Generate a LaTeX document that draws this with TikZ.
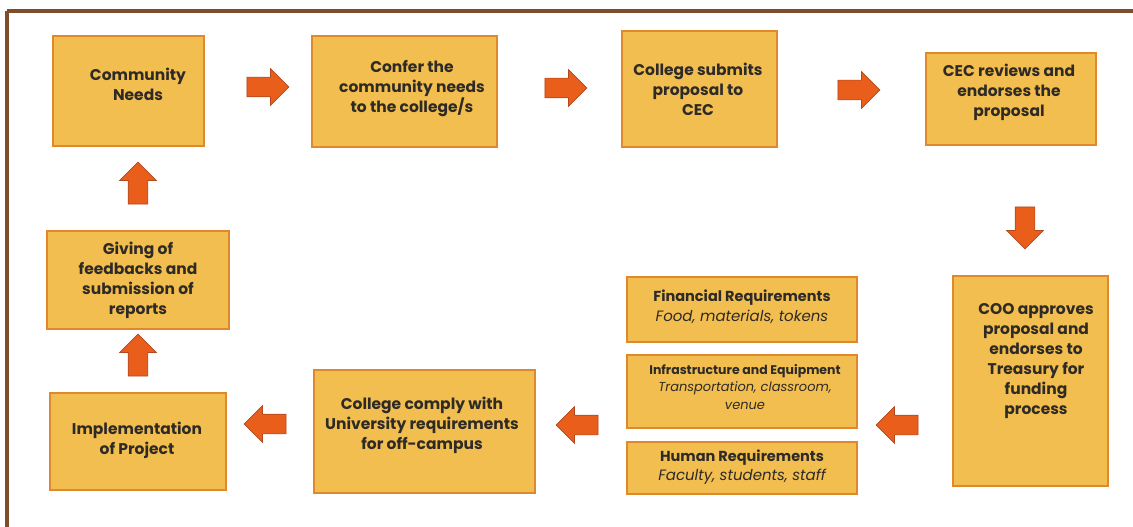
\documentclass[tikz,border=0pt]{standalone}
\usepackage{fontspec}
\setmainfont{Poppins}
\usetikzlibrary{shapes.arrows,calc}
\definecolor{boxfill}{HTML}{F2BE50}
\definecolor{boxline}{HTML}{E0882C}
\definecolor{arrowfill}{HTML}{EA5E1C}
\definecolor{arrowline}{HTML}{B04A1E}
\definecolor{frameline}{HTML}{7E4E2C}
\definecolor{txt}{HTML}{2E2A26}
\tikzset{
  stepbox/.style={draw=boxline, fill=boxfill, line width=2.6pt, inner sep=0pt},
  steptext/.style={text=txt, align=center, inner sep=0pt,
    font=\bfseries\fontsize{15.5}{20}\selectfont},
  reqtext/.style={text=txt, align=center, inner sep=0pt},
  blockarrow/.style={single arrow, fill=arrowfill, draw=arrowline, line width=0.7pt,
    inner sep=9.5pt, minimum height=42pt, minimum width=36pt,
    single arrow head extend=8.5pt}
}
\begin{document}
\begin{tikzpicture}[x=1pt,y=-1pt]
\useasboundingbox (0,0) rectangle (1133,527);
\fill[white] (0,0) rectangle (1133,527);
% page frame: top and left rules
\draw[frameline, line width=3.5pt] (7,11) -- (1133,11);
\draw[frameline, line width=3.5pt] (7,11) -- (7,527);

% process boxes
\node[stepbox, minimum width=151pt, minimum height=110pt] (cn) at (128.5,91) {};
\node[stepbox, minimum width=185pt, minimum height=111pt] (cf) at (404.5,91.5) {};
\node[stepbox, minimum width=155pt, minimum height=116pt] (cs) at (699.5,89) {};
\node[stepbox, minimum width=170pt, minimum height=92pt] (cr) at (1011,99) {};
\node[stepbox, minimum width=155pt, minimum height=210pt] (coo) at (1030.5,381) {};
\node[stepbox, minimum width=230pt, minimum height=65pt] (fin) at (742,309.5) {};
\node[stepbox, minimum width=230pt, minimum height=73pt] (inf) at (742,391.5) {};
\node[stepbox, minimum width=230pt, minimum height=52pt] (hum) at (742,468) {};
\node[stepbox, minimum width=221pt, minimum height=123pt] (comply) at (424.5,431.5) {};
\node[stepbox, minimum width=176pt, minimum height=97pt] (impl) at (138,441.5) {};
\node[stepbox, minimum width=182pt, minimum height=98pt] (give) at (138,280) {};

% box texts
\node[steptext] (cn-t) at (138,84) {Community\\Needs};
\node[steptext] (cf-t) at (412,89) {Confer the\\community needs\\to the college/s};
\node[steptext] (cs-t) at (698,89) {College submits\\proposal to\\CEC};
\node[steptext] (cr-t) at (1009,92) {CEC reviews and\\endorses the\\proposal};
\node[steptext] (coo-t) at (1036,361) {COO approves\\proposal and\\endorses to\\Treasury for\\funding\\process};
\node[steptext] (give-t) at (138,280) {Giving of\\feedbacks and\\submission of\\reports};
\node[steptext] (impl-t) at (137,440) {Implementation\\of Project};
\node[steptext] (comply-t) at (422,425) {College comply with\\University requirements\\for off-campus};
\node[reqtext, font=\fontsize{15}{20}\selectfont] (fin-t) at (742,307)
  {{\bfseries\fontsize{14.5}{20}\selectfont Financial Requirements}\\
   {\itshape Food, materials, tokens}};
\node[reqtext, font=\fontsize{13}{17.5}\selectfont] (inf-t) at (745,387)
  {{\bfseries\fontsize{12.5}{17.5}\selectfont Infrastructure and Equipment}\\
   {\itshape Transportation, classroom,}\\
   {\itshape venue}};
\node[reqtext, font=\fontsize{15}{19}\selectfont] (hum-t) at (742,467)
  {{\bfseries\fontsize{14.5}{19}\selectfont Human Requirements}\\
   {\itshape Faculty, students, staff}};

% block arrows between the steps
\node[blockarrow] (a1) at (263,87) {};
\node[blockarrow] (a2) at (561,88) {};
\node[blockarrow] (a3) at (854,90) {};
\node[blockarrow, shape border rotate=270] (a4) at (1025,223) {};
\node[blockarrow, shape border rotate=180] (a5) at (902,425) {};
\node[blockarrow, shape border rotate=180] (a6) at (582,425) {};
\node[blockarrow, shape border rotate=180] (a7) at (270,424) {};
\node[blockarrow, shape border rotate=90] (a8) at (138,360) {};
\node[blockarrow, shape border rotate=90] (a9) at (138,188) {};
\end{tikzpicture}
\end{document}
